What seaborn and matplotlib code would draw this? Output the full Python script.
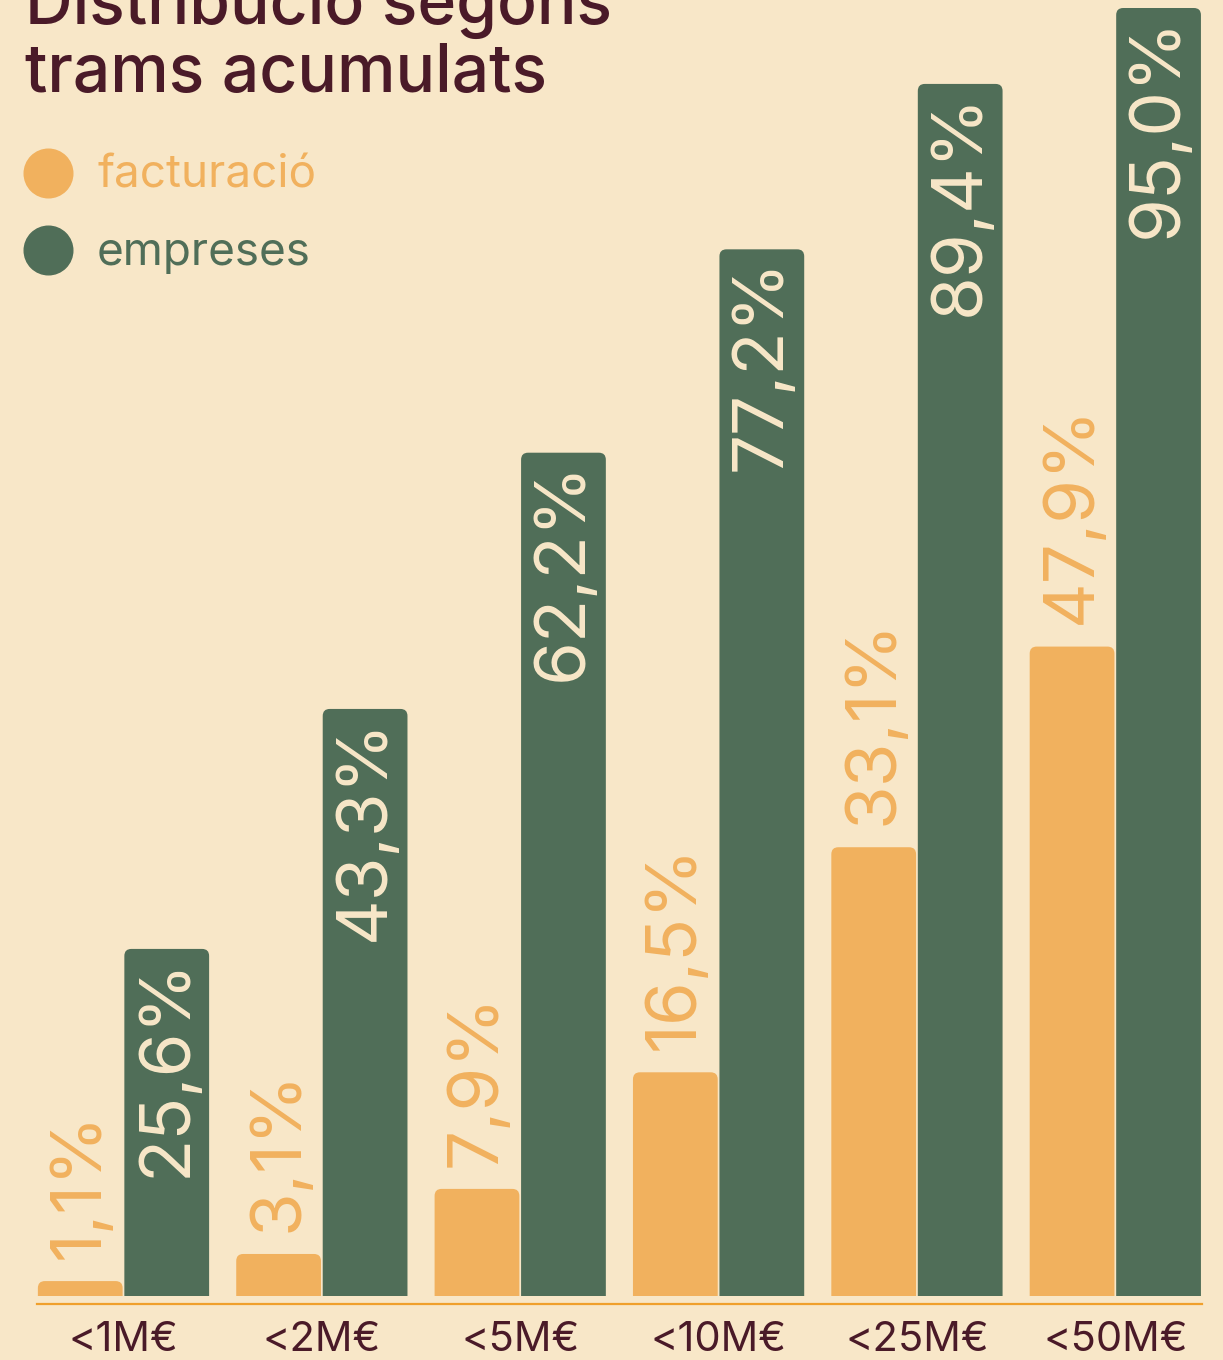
import numpy as np
import pandas as pd
import matplotlib
matplotlib.use("Agg")
import matplotlib.pyplot as plt
from matplotlib.patches import FancyBboxPatch, Rectangle
from matplotlib.lines import Line2D
import seaborn as sns

# data
trams = ["<1M€", "<2M€", "<5M€", "<10M€", "<25M€", "<50M€"]
facturacio = [1.1, 3.1, 7.9, 16.5, 33.1, 47.9]
empreses = [25.6, 43.3, 62.2, 77.2, 89.4, 95.0]
series = ["facturació", "empreses"]

BG = "#F8E7C8"
ORANGE = "#F1B15E"
GREEN = "#506E58"
DARK = "#4A1A28"
LINE = "#F0A02C"

df = pd.DataFrame({
    "tram": trams * 2,
    "serie": [series[0]] * len(trams) + [series[1]] * len(trams),
    "valor": facturacio + empreses,
})

sns.set_style("white")
plt.rcParams["font.family"] = ["Inter", "DejaVu Sans"]

W, H = 1223, 1360
fig = plt.figure(figsize=(W / 100, H / 100), dpi=100, facecolor=BG)
ax = fig.add_axes([37 / W, 56 / H, 1165 / W, 1304 / H])
ax.set_facecolor(BG)

sns.barplot(
    data=df, x="tram", y="valor", hue="serie", hue_order=series,
    palette=[ORANGE, GREEN], width=0.872, gap=0.02, saturation=1,
    legend=False, ax=ax, errorbar=None,
)

ax.set_xlim(-0.436, 5.437)
ax.set_ylim(-0.59, 95.59)

# rounded tops (box extended below zero and clipped at the baseline)
px_x = 1165 / (ax.get_xlim()[1] - ax.get_xlim()[0])
px_y = 1304 / (ax.get_ylim()[1] - ax.get_ylim()[0])
aspect = px_x / px_y
r = 7 / px_x
bars = list(ax.patches)
for p in bars:
    x0, w, h = p.get_x(), p.get_width(), p.get_height()
    fc = p.get_facecolor()
    p.set_visible(False)
    fb = FancyBboxPatch((x0, -3), w, h + 3, boxstyle=f"round,pad=0,rounding_size={r}",
                        mutation_aspect=aspect, fc=fc, ec="none")
    ax.add_patch(fb)
    clip = Rectangle((x0 - 0.1, 0), w + 0.2, 200, transform=ax.transData)
    fb.set_clip_path(clip)

# value labels
for p in bars:
    xc = p.get_x() + p.get_width() / 2
    h = p.get_height()
    txt = f"{h:.1f}".replace(".", ",") + "%"
    if p.get_facecolor()[1] > 0.6:  # orange
        ax.annotate(txt, (xc, h), xytext=(0, 16), textcoords="offset points",
                    rotation=90, ha="center", va="bottom", fontsize=51, color=ORANGE)
    else:
        ax.annotate(txt, (xc, h), xytext=(0, -6), textcoords="offset points",
                    rotation=90, ha="center", va="top", fontsize=51, color=BG)

# axes styling
for s in ["top", "left", "right"]:
    ax.spines[s].set_visible(False)
ax.spines["bottom"].set_color(LINE)
ax.spines["bottom"].set_linewidth(1.6)
ax.set_yticks([])
ax.set_xlabel("")
ax.set_ylabel("")
ax.tick_params(axis="x", length=0, pad=12, labelsize=30, labelcolor=DARK)

# title
fig.text(25 / W, 1 - 24 / H, "Distribució segons", fontsize=47.5, fontweight="medium",
         color=DARK, va="baseline", ha="left")
fig.text(25 / W, 1 - 92 / H, "trams acumulats", fontsize=47.5, fontweight="medium",
         color=DARK, va="baseline", ha="left")

# legend
for i, (name, col) in enumerate(zip(series, [ORANGE, GREEN])):
    yc = 1 - (173 + 77 * i) / H
    fig.add_artist(Line2D([48 / W], [yc], marker="o", ms=35, color=col, ls="",
                          transform=fig.transFigure))
    fig.text(97 / W, yc + 2 / H, name, fontsize=33, color=col, va="center_baseline", ha="left")

fig.savefig("out.png", dpi=100, facecolor=BG)
